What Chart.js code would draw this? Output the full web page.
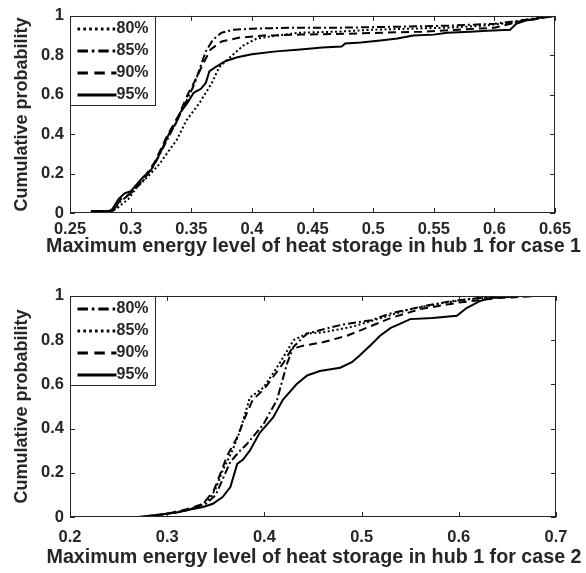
<!DOCTYPE html>
<html>
<head>
<meta charset="utf-8">
<script src="https://cdn.jsdelivr.net/npm/chart.js@4.4.1/dist/chart.umd.min.js"></script>
<style>
  body { margin: 0; background: #fff; }
  .panel { position: absolute; left: 0; }
  #p1 { top: 0; }
  #p2 { top: 280px; }
</style>
</head>
<body>
<div class="panel" id="p1"><canvas id="c1" width="586" height="270"></canvas></div>
<div class="panel" id="p2"><canvas id="c2" width="586" height="293"></canvas></div>
<script>
// ---------- Data ----------
const seriesLabels = ['80%', '85%', '90%', '95%'];
const yTicks = [0, 0.2, 0.4, 0.6, 0.8, 1];
const c1XTicks = [0.25, 0.3, 0.35, 0.4, 0.45, 0.5, 0.55, 0.6, 0.65];
const c2XTicks = [0.2, 0.3, 0.4, 0.5, 0.6, 0.7];
const c1Title = 'Maximum energy level of heat storage in hub 1 for case 1';
const c2Title = 'Maximum energy level of heat storage in hub 1 for case 2';
const yTitle = 'Cumulative probability';

// case 1, [x, cumulative probability]
const c1P80 = [[0.283,0],[0.29,0.03],[0.298,0.07],[0.305,0.13],[0.315,0.19],[0.324,0.25],[0.332,0.32],[0.338,0.37],[0.346,0.47],[0.357,0.56],[0.362,0.61],[0.367,0.66],[0.373,0.74],[0.382,0.79],[0.393,0.85],[0.404,0.885],[0.42,0.9],[0.44,0.915],[0.47,0.92],[0.5,0.93],[0.53,0.935],[0.56,0.94],[0.59,0.95],[0.62,0.97],[0.635,0.985],[0.65,1]];
const c1P85 = [[0.272,0],[0.285,0.01],[0.292,0.06],[0.3,0.1],[0.31,0.16],[0.32,0.25],[0.33,0.37],[0.34,0.49],[0.347,0.58],[0.353,0.66],[0.358,0.75],[0.362,0.82],[0.368,0.88],[0.375,0.915],[0.385,0.93],[0.4,0.935],[0.43,0.94],[0.47,0.94],[0.52,0.945],[0.56,0.95],[0.6,0.96],[0.625,0.98],[0.645,1]];
const c1P90 = [[0.27,0],[0.285,0.01],[0.292,0.07],[0.3,0.1],[0.31,0.17],[0.32,0.26],[0.33,0.39],[0.34,0.5],[0.347,0.6],[0.353,0.67],[0.36,0.76],[0.366,0.83],[0.375,0.87],[0.39,0.89],[0.41,0.9],[0.44,0.905],[0.48,0.91],[0.51,0.915],[0.54,0.92],[0.57,0.93],[0.6,0.94],[0.62,0.97],[0.64,0.99],[0.65,1]];
const c1P95 = [[0.268,0],[0.268,0.01],[0.282,0.01],[0.285,0.02],[0.29,0.07],[0.295,0.1],[0.3,0.11],[0.31,0.18],[0.317,0.22],[0.324,0.3],[0.333,0.42],[0.337,0.45],[0.341,0.51],[0.347,0.56],[0.352,0.61],[0.358,0.63],[0.362,0.66],[0.365,0.72],[0.37,0.74],[0.378,0.77],[0.388,0.79],[0.4,0.805],[0.42,0.82],[0.44,0.83],[0.458,0.84],[0.474,0.845],[0.477,0.86],[0.49,0.865],[0.506,0.875],[0.52,0.885],[0.533,0.9],[0.55,0.905],[0.561,0.915],[0.58,0.92],[0.594,0.925],[0.613,0.93],[0.618,0.96],[0.625,0.975],[0.637,0.99],[0.65,1]];

// case 2
const c2P80 = [[0.28,0],[0.3,0.015],[0.32,0.03],[0.34,0.06],[0.35,0.1],[0.358,0.18],[0.365,0.25],[0.375,0.3],[0.382,0.33],[0.399,0.42],[0.413,0.53],[0.423,0.69],[0.43,0.77],[0.444,0.83],[0.457,0.845],[0.48,0.87],[0.51,0.89],[0.529,0.92],[0.56,0.95],[0.59,0.975],[0.62,0.99],[0.67,1]];
const c2P85 = [[0.28,0],[0.3,0.015],[0.32,0.03],[0.335,0.055],[0.345,0.09],[0.35,0.13],[0.357,0.21],[0.367,0.3],[0.375,0.39],[0.385,0.54],[0.399,0.585],[0.409,0.65],[0.419,0.72],[0.43,0.8],[0.444,0.83],[0.46,0.835],[0.49,0.86],[0.52,0.9],[0.55,0.94],[0.58,0.965],[0.61,0.985],[0.65,1]];
const c2P90 = [[0.275,0],[0.3,0.015],[0.32,0.035],[0.337,0.06],[0.348,0.12],[0.355,0.2],[0.362,0.28],[0.372,0.36],[0.38,0.45],[0.388,0.53],[0.4,0.58],[0.41,0.64],[0.42,0.7],[0.428,0.76],[0.44,0.775],[0.46,0.79],[0.485,0.82],[0.502,0.85],[0.53,0.9],[0.56,0.94],[0.6,0.97],[0.64,0.99],[0.683,1]];
const c2P95 = [[0.27,0],[0.29,0.01],[0.31,0.02],[0.325,0.035],[0.337,0.045],[0.347,0.06],[0.357,0.09],[0.365,0.135],[0.372,0.24],[0.378,0.26],[0.385,0.3],[0.395,0.38],[0.409,0.45],[0.419,0.53],[0.433,0.6],[0.444,0.64],[0.457,0.66],[0.478,0.675],[0.49,0.7],[0.498,0.73],[0.51,0.78],[0.519,0.82],[0.53,0.855],[0.54,0.875],[0.55,0.895],[0.573,0.9],[0.598,0.91],[0.608,0.945],[0.622,0.977],[0.632,0.99],[0.66,1]];

// ---------- Styles ----------
const INK = '#262626';
const FONT = 'Arial, "Liberation Sans", sans-serif';
const STYLE = {
  solid:   { dash: [],           width: 2 },
  dotted:  { dash: [2, 2.5],     width: 2 },
  dashdot: { dash: [8, 3, 2, 3], width: 2 },
  dashed:  { dash: [8, 5],       width: 2 }
};

const toXY = arr => arr.map(p => ({ x: p[0], y: p[1] }));

function makeDataset(label, pts, st){
  return {
    label, data: toXY(pts),
    borderColor: '#000', borderWidth: st.width, borderDash: st.dash,
    pointRadius: 0, fill: false, tension: 0
  };
}

// MATLAB style box, inward ticks, x title (unsqueezed) and legend in the top-left corner
const boxPlugin = {
  id: 'matlabBox',
  afterDraw(chart, args, opts){
    const { ctx, chartArea: a, scales: { x, y } } = chart;
    ctx.save();
    ctx.strokeStyle = INK;
    ctx.lineWidth = 1;
    ctx.setLineDash([]);
    ctx.strokeRect(Math.round(a.left) + 0.5, Math.round(a.top) + 0.5, Math.round(a.width) - 1, Math.round(a.height) - 1);
    const tl = 5;
    ctx.beginPath();
    x.ticks.forEach(t => {
      const px = Math.round(x.getPixelForValue(t.value)) + 0.5;
      ctx.moveTo(px, a.bottom); ctx.lineTo(px, a.bottom - tl);
      ctx.moveTo(px, a.top); ctx.lineTo(px, a.top + tl);
    });
    y.ticks.forEach(t => {
      const py = Math.round(y.getPixelForValue(t.value)) + 0.5;
      ctx.moveTo(a.left, py); ctx.lineTo(a.left + tl, py);
      ctx.moveTo(a.right, py); ctx.lineTo(a.right - tl, py);
    });
    ctx.stroke();

    // x axis title
    ctx.fillStyle = INK;
    ctx.font = 'bold 19.7px ' + FONT;
    ctx.textAlign = 'center';
    ctx.textBaseline = 'middle';
    ctx.fillText(opts.title, (a.left + a.right) / 2 + 1, opts.titleY);

    // legend
    const lx = Math.round(a.left) + 0.5, ly = Math.round(a.top) + 0.5;
    const lw = 85, lh = 89;
    ctx.fillStyle = '#fff';
    ctx.fillRect(lx, ly, lw, lh);
    ctx.strokeRect(lx, ly, lw, lh);
    ctx.font = 'bold 16px ' + FONT;
    ctx.textAlign = 'left';
    chart.data.datasets.forEach((ds, i) => {
      const yy = ly + 12.5 + 22 * i;
      ctx.strokeStyle = '#000';
      ctx.lineWidth = 3;
      ctx.setLineDash(ds.borderDash.map(d => d * 1.3));
      ctx.beginPath();
      ctx.moveTo(lx + 7, yy); ctx.lineTo(lx + 46, yy);
      ctx.stroke();
      ctx.fillStyle = INK;
      ctx.fillText(ds.label, lx + 46, yy);
    });
    ctx.restore();
  }
};

function makeChart(id, datasets, xTicks, xTitle, geo){
  return new Chart(document.getElementById(id), {
    type: 'line',
    data: { datasets },
    plugins: [boxPlugin],
    options: {
      responsive: false,
      animation: false,
      layout: { padding: { top: geo.top, right: geo.right, bottom: 0, left: 0 } },
      plugins: {
        legend: { display: false }, tooltip: { enabled: false },
        matlabBox: { title: xTitle, titleY: geo.titleY }
      },
      scales: {
        x: {
          type: 'linear', min: xTicks[0], max: xTicks[xTicks.length - 1],
          afterBuildTicks: s => { s.ticks = xTicks.map(v => ({ value: v })); },
          afterFit: s => { s.height = geo.xh; },
          grid: { display: false, drawTicks: false }, border: { display: false },
          ticks: { color: INK, font: { family: FONT, size: 16.5, weight: 'bold' }, padding: geo.tickPad, maxRotation: 0, autoSkip: false, callback: v => String(v) }
        },
        y: {
          min: 0, max: 1,
          afterBuildTicks: s => { s.ticks = yTicks.map(v => ({ value: v })); },
          afterFit: s => { s.width = 70; },
          grid: { display: false, drawTicks: false }, border: { display: false },
          ticks: { color: INK, font: { family: FONT, size: 16.5, weight: 'bold' }, padding: 6, callback: v => String(v) },
          title: { display: true, text: yTitle, color: INK, font: { family: FONT, size: 18, weight: 'bold' }, padding: { top: 11, bottom: 0 } }
        }
      }
    }
  });
}

makeChart('c1', [
  makeDataset(seriesLabels[0], c1P80, STYLE.dotted),
  makeDataset(seriesLabels[1], c1P85, STYLE.dashdot),
  makeDataset(seriesLabels[2], c1P90, STYLE.dashed),
  makeDataset(seriesLabels[3], c1P95, STYLE.solid)
], c1XTicks, c1Title, { top: 10, right: 31, xh: 57, tickPad: 7, titleY: 247 });

makeChart('c2', [
  makeDataset(seriesLabels[0], c2P80, STYLE.dashdot),
  makeDataset(seriesLabels[1], c2P85, STYLE.dotted),
  makeDataset(seriesLabels[2], c2P90, STYLE.dashed),
  makeDataset(seriesLabels[3], c2P95, STYLE.solid)
], c2XTicks, c2Title, { top: 15, right: 30, xh: 56, tickPad: 11, titleY: 278 });
</script>
</body>
</html>
